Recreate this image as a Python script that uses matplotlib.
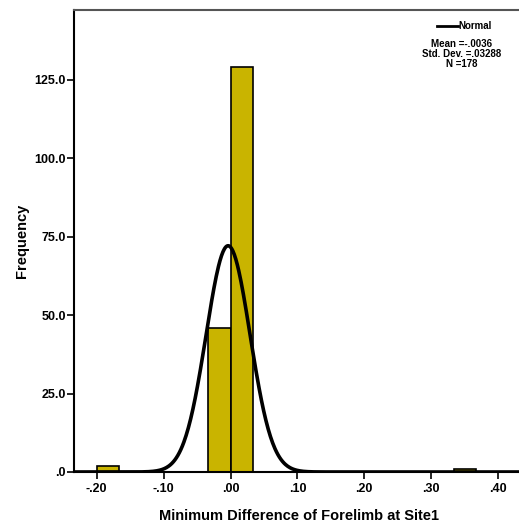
import numpy as np
import matplotlib
matplotlib.use("Agg")
import matplotlib.pyplot as plt

plt.rcParams['font.family'] = ['Liberation Sans', 'DejaVu Sans']

# histogram bins (left edge, right edge) and counts
bin_left = [-0.200, -0.033, 0.000, 0.334]
bin_right = [-0.167, 0.000, 0.033, 0.367]
counts = [2, 46, 129, 1]

mean = -0.0036
std_dev = 0.03288
n = 178
bin_width = 0.0334

xticks = [-0.20, -0.10, 0.00, 0.10, 0.20, 0.30, 0.40]
xtick_labels = ['-.20', '-.10', '.00', '.10', '.20', '.30', '.40']
yticks = [0, 25, 50, 75, 100, 125]
ytick_labels = ['.0', '25.0', '50.0', '75.0', '100.0', '125.0']

fig = plt.figure(figsize=(5.19, 5.26), dpi=100)
ax = fig.add_axes([74 / 519, 54 / 526, 450 / 519, 462 / 526])

widths = [r - l for l, r in zip(bin_left, bin_right)]
ax.bar(bin_left, counts, width=widths, align='edge', color='#C9B400',
       edgecolor='black', linewidth=1.2, zorder=2)

# fitted normal curve
xs = np.linspace(-0.234, 0.44, 600)
ys = n * bin_width / (std_dev * np.sqrt(2 * np.pi)) * np.exp(-0.5 * ((xs - mean) / std_dev) ** 2)
ax.plot(xs, ys, color='black', linewidth=2.6, zorder=3)

ax.set_xlim(-0.234, 0.4388)
ax.set_ylim(0, 147.3)
ax.set_xticks(xticks)
ax.set_xticklabels(xtick_labels, fontsize=9, fontweight='bold')
ax.set_yticks(yticks)
ax.set_yticklabels(ytick_labels, fontsize=9, fontweight='bold')
ax.tick_params(direction='out', length=5, width=1.2)
ax.tick_params(axis='y', pad=1)
ax.tick_params(axis='x', pad=3)

for s in ax.spines.values():
    s.set_linewidth(1.5)
    s.set_color('black')
ax.spines['top'].set_color('#555555')

ax.set_xlabel('Minimum Difference of Forelimb at Site1', fontsize=10.5,
              fontweight='bold', labelpad=10)
ax.set_ylabel('Frequency', fontsize=10.5, fontweight='bold', labelpad=4)

# legend block
fig.lines.append(plt.Line2D([437 / 519, 458 / 519], [1 - 26 / 526, 1 - 26 / 526],
                            color='black', linewidth=2, transform=fig.transFigure))
fig.text(458 / 519, 1 - 26 / 526, 'Normal', fontsize=7, fontweight='bold',
         va='center', ha='left')
fig.text(462 / 519, 1 - 54 / 526, 'Mean =-.0036\nStd. Dev. =.03288\nN =178',
         fontsize=7, fontweight='bold', ha='center', va='center',
         linespacing=1.0)

fig.savefig('out.png', dpi=100)
